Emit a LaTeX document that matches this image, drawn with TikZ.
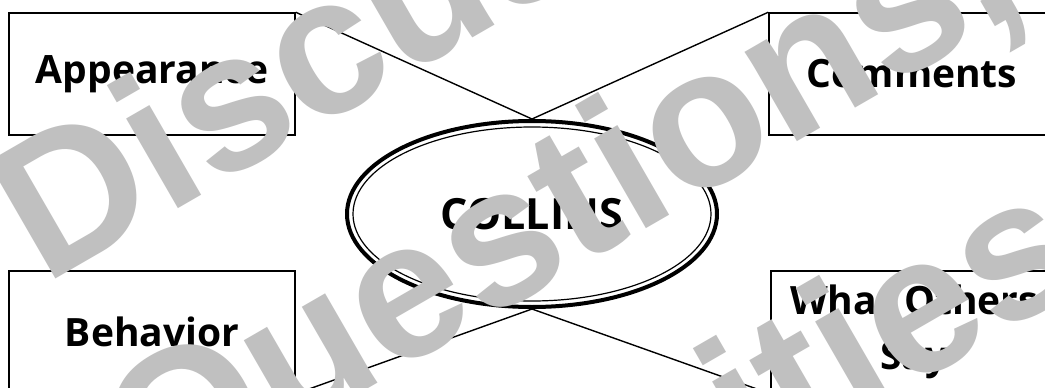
\documentclass[tikz,border=0pt]{standalone}
\usepackage{fontspec}
\setmainfont{Open Sans}
\newfontfamily\wmfont{Liberation Sans}
\usetikzlibrary{shapes.geometric}
\definecolor{wm}{RGB}{192,192,192}
\tikzset{
  box/.style={draw, line width=1.5pt, minimum width=286pt, minimum height=122pt,
    font=\bfseries\fontsize{39}{55}\selectfont, align=center, inner sep=0pt},
  hub/.style={ellipse, draw, line width=4pt, minimum width=370pt, minimum height=186pt,
    font=\bfseries\fontsize{43}{50}\selectfont, inner sep=0pt},
  link/.style={line width=1.4pt},
  wmark/.style={text=wm, font=\wmfont\bfseries\fontsize{196}{196}\selectfont,
    rotate=30, anchor=base west, inner sep=0pt}
}
\begin{document}
\begin{tikzpicture}[x=1pt,y=-1pt]
\useasboundingbox (0,0) rectangle (1045,388);
\clip (0,0) rectangle (1045,388);
\fill[white] (0,0) rectangle (1045,388);
\node[box] (app) at (152,74) {Appearance};
\node[box] (com) at (912,74) {Comments};
\node[box] (beh) at (152,332) {Behavior};
\node[box] (oth) at (914,332) {What Others\\Say};
\node[hub] (col) at (532,214) {COLLINS};
\draw[line width=1.2pt] (col.center) ellipse [x radius=179pt, y radius=87pt];
\draw[link] (app.north east) -- (col.north) -- (com.north west);
\draw[link] (beh.south east) -- (col.south) -- (oth.south west);
\node[wmark] (w1) at (44,286) {Discussions,};
\node[wmark] (w2) at (153,513) {Questions,};
\node[wmark] (w3) at (337,718) {Activities};
\end{tikzpicture}
\end{document}
